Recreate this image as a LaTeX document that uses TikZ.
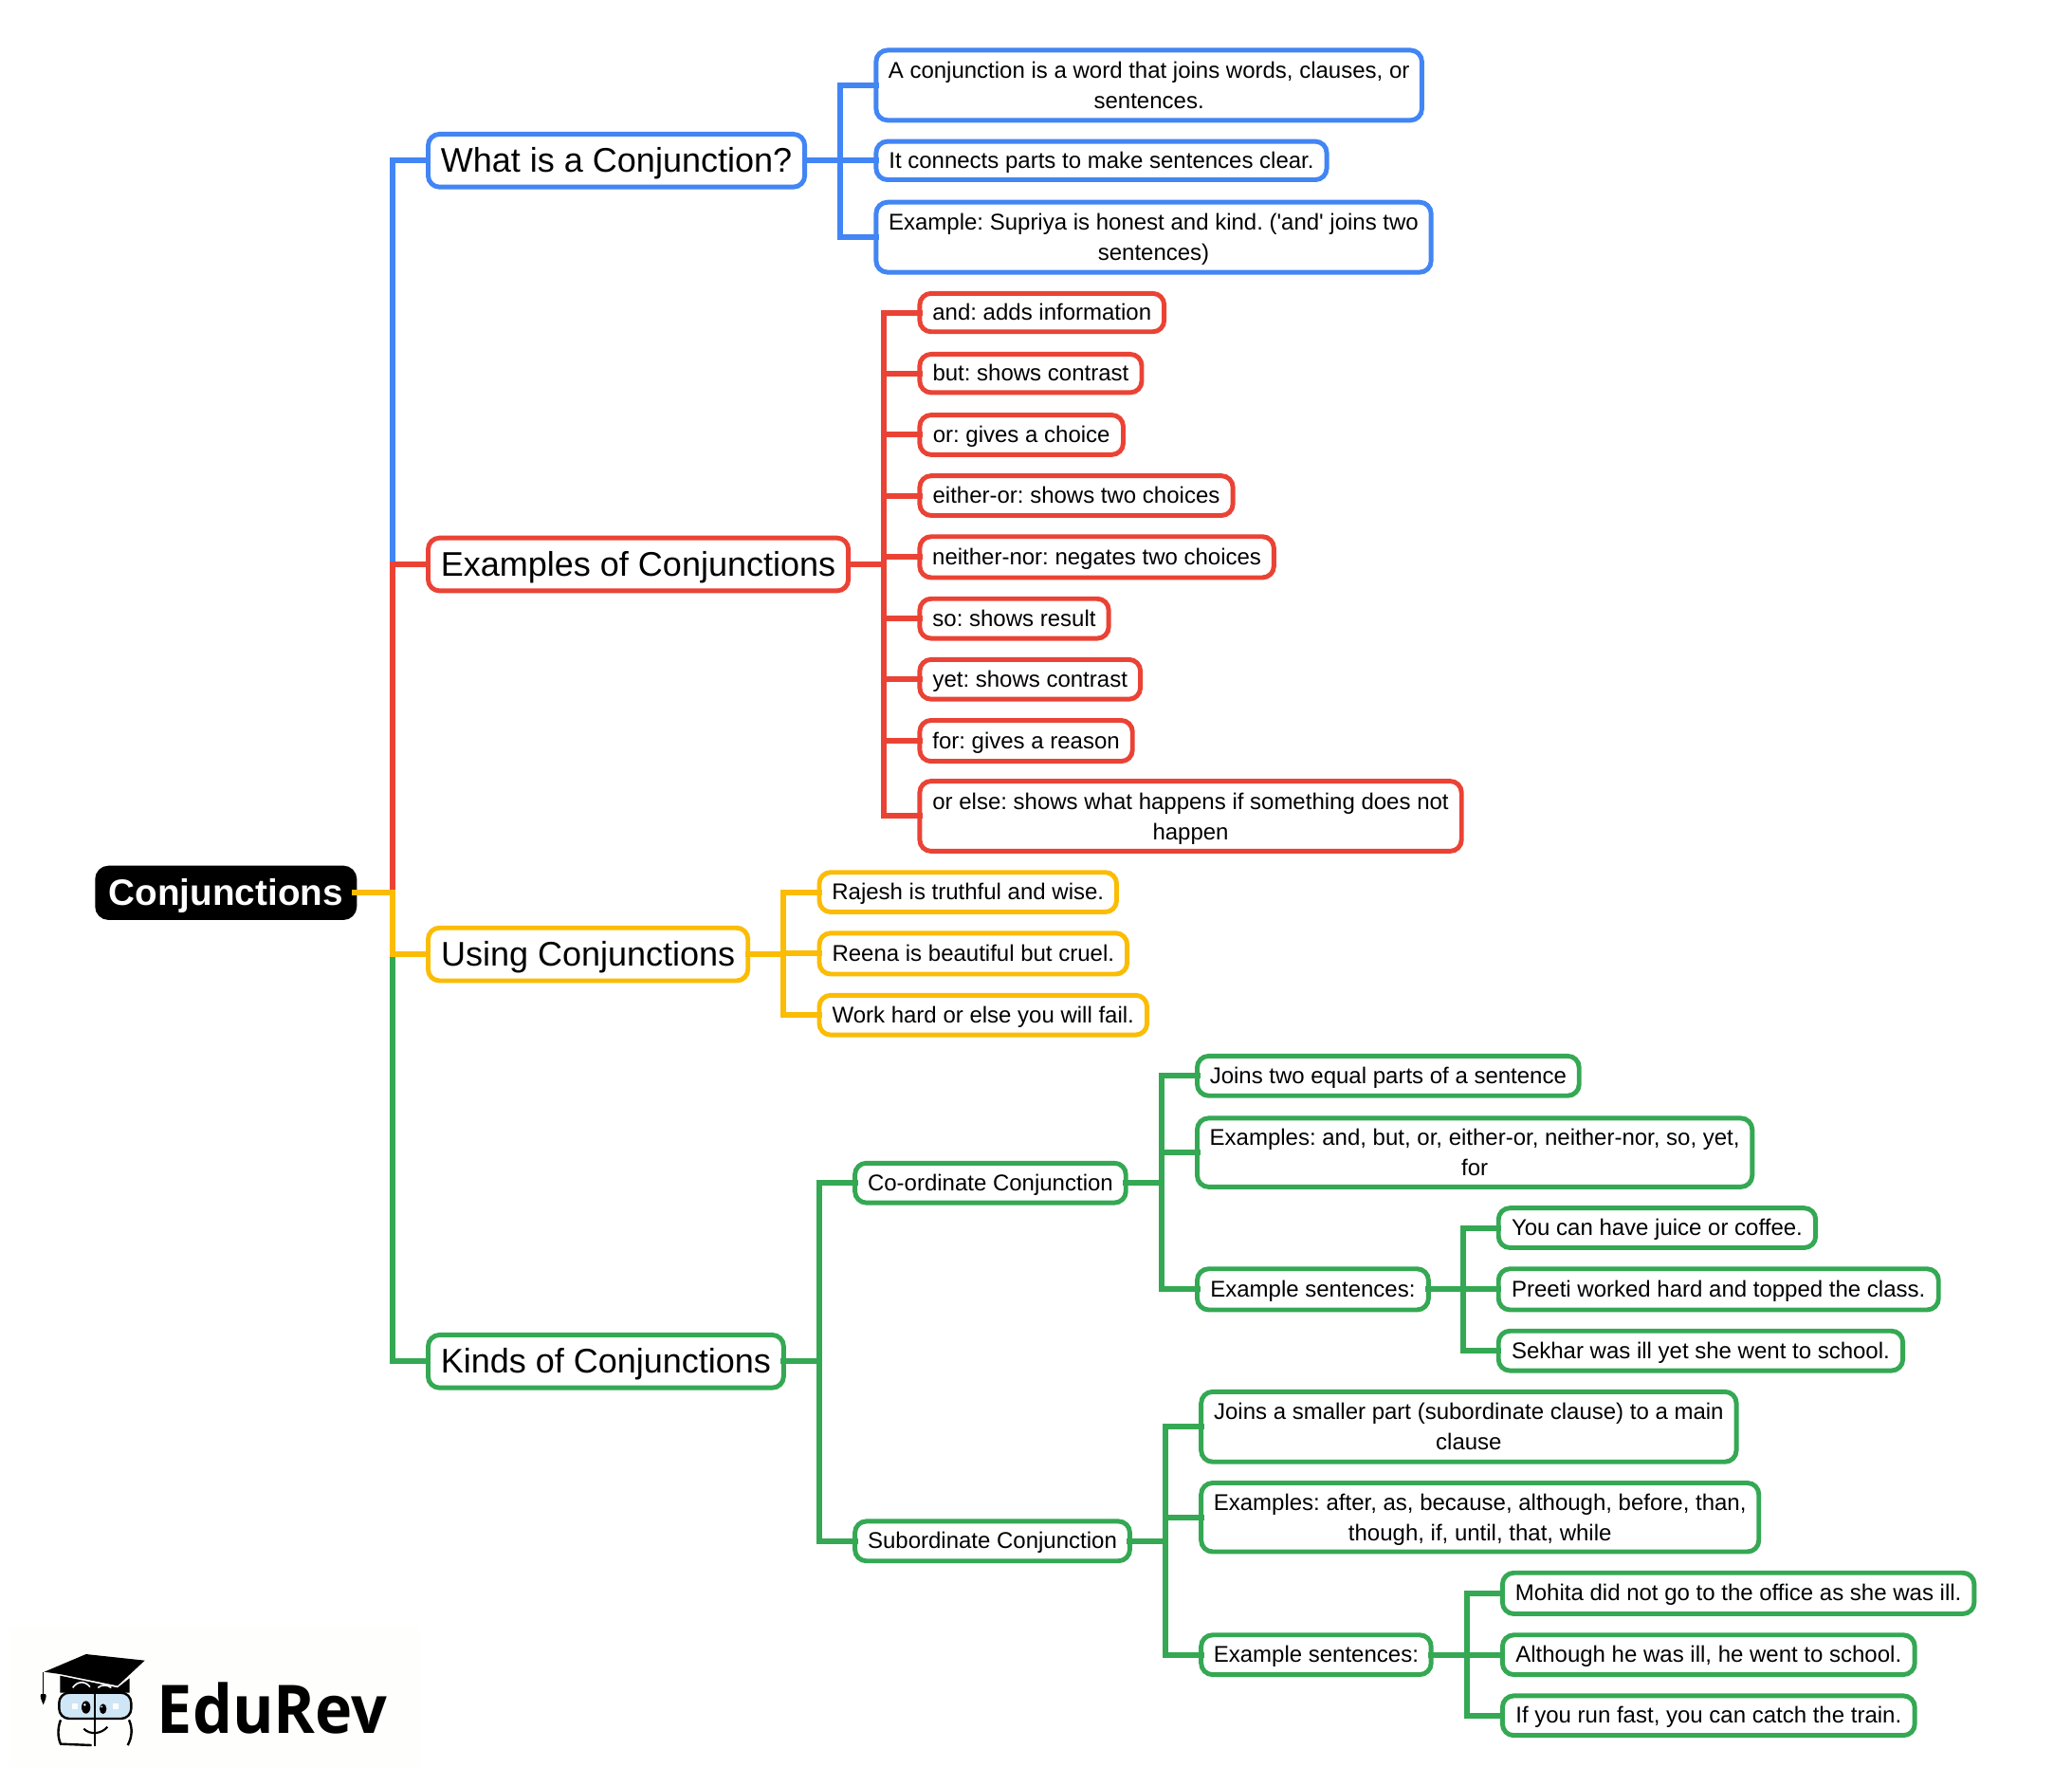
\documentclass[tikz,border=0pt]{standalone}
\usepackage{fontspec}
\setmainfont{Liberation Sans}
\newfontfamily\logofont{Open Sans}
\definecolor{gblue}{HTML}{4285F4}
\definecolor{gred}{HTML}{EA4335}
\definecolor{gyellow}{HTML}{FBBC04}
\definecolor{ggreen}{HTML}{34A853}
\definecolor{glass}{HTML}{CFE6F6}
\definecolor{logobg}{HTML}{FEFEFD}
\newcommand\mystrut[1]{\vrule width 0pt height #1\baselineskip depth 0.25\baselineskip}
\tikzset{
  base/.style={draw,fill=white,rounded corners=9pt,line width=3.7pt,inner sep=0pt,outer sep=0pt,align=center,text=black,
    execute at begin node={\frenchspacing\mystrut{0.75}},execute at end node={\mystrut{0.75}}},
  big/.style={base,font=\fontsize{27}{34}\selectfont,
    execute at begin node={\frenchspacing\mystrut{0.8}}},
  leaf/.style={base,font=\fontsize{18}{24}\selectfont},
  twolines/.style={leaf,text depth=0pt},
  rootbox/.style={base,draw=black,fill=black,text=white,line width=3.2pt,font=\fontsize{29}{34}\selectfont\bfseries,
    execute at begin node={\frenchspacing\mystrut{0.85}}},
  conn/.style={line width=4.5pt,line cap=rect},
}
\newcommand\bx[7]{%
  \pgfmathsetmacro{\bw}{(#5-#3)*1.04512}%
  \pgfmathsetmacro{\bh}{(#6-#4)*1.04512}%
  \node[#1,minimum width=\bw pt,minimum height=\bh pt] (#2) at ({(#3+#5)/2},{(#4+#6)/2}) {#7};%
}
% \fan{colour}{parent}{bus}{children}
\newcommand\fan[4]{%
  \foreach \c in {#4}{\draw[conn,#1] (#2.east) -- (#2.east -| #3) |- (\c.west);}%
}
\begin{document}
\begin{tikzpicture}[x=1.04512pt,y=-1.04512pt]
\useasboundingbox (0,0) rectangle (1568,1350.6);
\fill[white] (0,0) rectangle (1568,1350.6);
\foreach \n/\x in {b1/297,bw/636,be/669,bu/593,bk/620,bc/879,bs/882,bx1/1107,bx2/1110}{\coordinate (\n) at (\x,0);}

\bx{rootbox}{root}{73.5}{656.5}{268.5}{694.5}{Conjunctions}
\bx{big,draw=gblue}{what}{324}{101.5}{609}{141.5}{What is a Conjunction?}
\bx{twolines,draw=gblue}{w1}{663}{38}{1076}{91}{A conjunction is a word that joins words, clauses, or\\sentences.}
\bx{leaf,draw=gblue}{w2}{663}{107}{1004}{136}{It connects parts to make sentences clear.}
\bx{twolines,draw=gblue}{w3}{663}{153}{1083}{206}{Example: Supriya is honest and kind. (\textquotesingle and\textquotesingle\ joins two\\sentences)}

\bx{big,draw=gred}{ex}{324}{407}{642}{447}{Examples of Conjunctions}
\bx{leaf,draw=gred}{e1}{696}{222}{881}{251}{and: adds information}
\bx{leaf,draw=gred}{e2}{696}{268}{864}{297}{but: shows contrast}
\bx{leaf,draw=gred}{e3}{696}{314}{850}{344}{or: gives a choice}
\bx{leaf,draw=gred}{e4}{696}{360}{933}{390}{either-or: shows two choices}
\bx{leaf,draw=gred}{e5}{696}{406}{964}{437}{neither-nor: negates two choices}
\bx{leaf,draw=gred}{e6}{696}{453}{839}{483}{so: shows result}
\bx{leaf,draw=gred}{e7}{696}{499}{863}{529}{yet: shows contrast}
\bx{leaf,draw=gred}{e8}{696}{545}{857}{576}{for: gives a reason}
\bx{twolines,draw=gred}{e9}{696}{591}{1106}{644}{or else: shows what happens if something does not\\happen}

\bx{big,draw=gyellow}{us}{324}{702}{566}{742}{Using Conjunctions}
\bx{leaf,draw=gyellow}{u1}{620}{660}{845}{690}{Rajesh is truthful and wise.}
\bx{leaf,draw=gyellow}{u2}{620}{706}{853}{737}{Reena is beautiful but cruel.}
\bx{leaf,draw=gyellow}{u3}{620}{753}{868}{783}{Work hard or else you will fail.}

\bx{big,draw=ggreen}{ki}{324}{1010}{593}{1050}{Kinds of Conjunctions}
\bx{leaf,draw=ggreen}{co}{647}{880}{852}{910}{Co-ordinate Conjunction}
\bx{leaf,draw=ggreen}{c1}{906}{799}{1195}{829}{Joins two equal parts of a sentence}
\bx{twolines,draw=ggreen}{c2}{906}{846}{1326}{898}{Examples: and, but, or, either-or, neither-nor, so, yet,\\for}
\bx{leaf,draw=ggreen}{c3}{906}{960}{1081}{991}{Example sentences:}
\bx{leaf,draw=ggreen}{c4}{1134}{914}{1374}{944}{You can have juice or coffee.}
\bx{leaf,draw=ggreen}{c5}{1134}{960}{1467}{991}{Preeti worked hard and topped the class.}
\bx{leaf,draw=ggreen}{c6}{1134}{1007}{1440}{1037}{Sekhar was ill yet she went to school.}
\bx{leaf,draw=ggreen}{su}{647}{1151}{855}{1181}{Subordinate Conjunction}
\bx{twolines,draw=ggreen}{s1}{909}{1053}{1314}{1106}{Joins a smaller part (subordinate clause) to a main\\clause}
\bx{twolines,draw=ggreen}{s2}{909}{1122}{1331}{1174}{Examples: after, as, because, although, before, than,\\though, if, until, that, while}
\bx{leaf,draw=ggreen}{s3}{909}{1237}{1083}{1267}{Example sentences:}
\bx{leaf,draw=ggreen}{s4}{1137}{1190}{1494}{1221}{Mohita did not go to the office as she was ill.}
\bx{leaf,draw=ggreen}{s5}{1137}{1237}{1449}{1267}{Although he was ill, he went to school.}
\bx{leaf,draw=ggreen}{s6}{1137}{1283}{1449}{1313}{If you run fast, you can catch the train.}

\fan{ggreen}{root}{b1}{ki}
\fan{gblue}{root}{b1}{what}
\fan{gred}{root}{b1}{ex}
\fan{gyellow}{root}{b1}{us}
\fan{gblue}{what}{bw}{w1,w2,w3}
\fan{gred}{ex}{be}{e1,e2,e3,e4,e5,e6,e7,e8,e9}
\fan{gyellow}{us}{bu}{u1,u2,u3}
\fan{ggreen}{ki}{bk}{co,su}
\fan{ggreen}{co}{bc}{c1,c2,c3}
\fan{ggreen}{c3}{bx1}{c4,c5,c6}
\fan{ggreen}{su}{bs}{s1,s2,s3}
\fan{ggreen}{s3}{bx2}{s4,s5,s6}

% logo, drawn in units of a 3x crop of the reference
\begin{scope}[shift={(0,1205.6)},x=0.25pt,y=-0.25pt]
\fill[logobg] (30,105) rectangle (1330,550);
\fill[black] (140,248) -- (272,192) -- (458,212) -- (372,292) -- (190,255) -- cycle;
\fill[black] (190,260) -- (372,298) -- (410,268) -- (410,314) -- (190,314) -- cycle;
\draw[white,line width=1.2pt] (230,298) .. controls (245,276) and (270,276) .. (285,296);
\draw[white,line width=1.2pt] (310,298) .. controls (320,288) and (340,288) .. (352,298);
\draw[black,line width=1pt] (137,250) -- (137,320);
\fill[black] (137,352) .. controls (130,335) and (125,325) .. (130,318) -- (144,318) .. controls (149,325) and (144,335) .. (137,352) -- cycle;
\draw[black,line width=1.8pt,fill=glass,rounded corners=8pt] (187,314) rectangle (415,396);
\draw[black,line width=2pt] (300,310) -- (300,482);
\fill[black] (272,360) ellipse [x radius=14,y radius=20];
\fill[black] (326,365) ellipse [x radius=11,y radius=16];
\fill[white] (268,352) circle (4);
\fill[white] (322,358) circle (3);
\fill[white] (229,349) rectangle (247,366);
\fill[white] (356,349) rectangle (375,366);
\draw[black,line width=1.8pt] (192,400) .. controls (182,425) and (182,455) .. (192,476) -- (290,480);
\draw[black,line width=1.8pt] (408,400) .. controls (420,425) and (418,455) .. (404,480);
\draw[black,line width=1.6pt] (265,428) .. controls (285,448) and (320,445) .. (340,422);
\node[anchor=base west,inner sep=0pt,text=black,font=\fontsize{53}{60}\logofont\bfseries] (logo) at (497,443) {\scalebox{0.94}[1]{EduRev}};
\end{scope}
\end{tikzpicture}
\end{document}
